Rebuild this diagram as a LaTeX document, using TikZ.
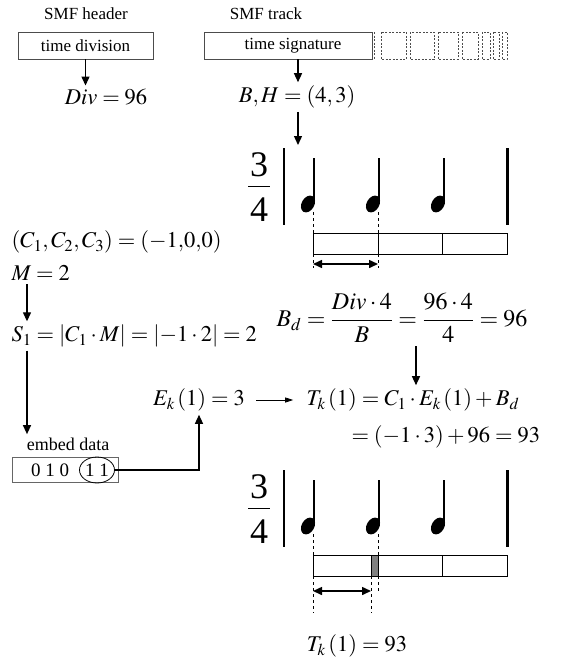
\documentclass[tikz,border=0pt]{standalone}
\usepackage{amsmath}
\usepackage{mathptmx}
\usepackage{fontspec}
\setmainfont{Liberation Serif}
\usetikzlibrary{arrows.meta, shapes.geometric}

\begin{document}
\begin{tikzpicture}[>={Triangle[length=9pt,width=8pt]}, x=1pt, y=-1pt,
    label text/.style={font=\fontsize{17}{20}\selectfont},
    math text/.style={font=\fontsize{22.5}{26}\selectfont},
    meter/.style={font=\fontsize{36}{40}\selectfont, inner sep=0pt},
    chunk/.style={draw=black!70, line width=0.8pt, minimum height=27pt}]
    \useasboundingbox (0,0) rectangle (565,665);

    % Draw the SMF header and track chunks
    \node[label text] (hdr) at (86,14) {SMF header};
    \node[chunk, label text, minimum width=135pt] (tdiv) at (85.5,45.5) {time division};
    \node[label text] (trk) at (266,14) {SMF track};
    \node[chunk, label text, minimum width=168pt] (tsig) at (288,45.5) {\hspace{10pt}time signature};

    % Draw the remaining track events as dashed boxes
    \draw[dashed, black!70, dash pattern=on 2pt off 1.5pt] (374,32) -- (374,59);
    \draw[dashed, black!70, dash pattern=on 2pt off 1.5pt] (381,32) rectangle (406,59);
    \draw[dashed, black!70, dash pattern=on 2pt off 1.5pt] (410,32) rectangle (434,59);
    \draw[dashed, black!70, dash pattern=on 2pt off 1.5pt] (438,32) rectangle (458,59);
    \draw[dashed, black!70, dash pattern=on 2pt off 1.5pt] (462,32) rectangle (478,59);
    \draw[dashed, black!70, dash pattern=on 2pt off 1.5pt] (482,32) rectangle (490,59);
    \draw[dashed, black!70, dash pattern=on 2pt off 1.5pt] (493,32) rectangle (499,59);
    \draw[dashed, black!70, dash pattern=on 2pt off 1.5pt] (502,32) rectangle (507,59);

    % Values read from the chunks
    \node[math text] (div) at (106,97) {$Div = 96$};
    \node[math text] (bh) at (297,97) {$B,H = (4,3)$};
    \coordinate (bhx) at (298,0);
    \coordinate (staffin) at (298,145);
    \draw[line width=1.3pt, ->] (tdiv.south) -- (tdiv.south |- div.north);
    \draw[line width=1.3pt, ->] (tsig.south -| bhx) -- (bh.north -| bhx);
    \draw[line width=1.3pt, ->] (bh.south -| bhx) -- (staffin);

    % Draw the first bar in 3/4
    \node[meter] (numa) at (259,165) {3};
    \node[meter] (dena) at (259,210) {4};
    \draw[line width=0.8pt] (248,186) -- (270,186);
    \draw[line width=2.5pt] (284,148) -- (284,225);
    \draw[line width=3pt] (507,148) -- (507,225);
    \fill[rotate around={60:(308,204)}] (308,204) ellipse (9 and 6.3);
    \fill[rotate around={60:(373,204)}] (373,204) ellipse (9 and 6.3);
    \fill[rotate around={60:(438,204)}] (438,204) ellipse (9 and 6.3);
    \draw[line width=1.3pt] (314,158) -- (314,202);
    \draw[line width=1.3pt] (379,158) -- (379,202);
    \draw[line width=1.3pt] (444,158) -- (444,202);
    \draw[line width=0.8pt] (313,233) rectangle (507,254);
    \draw[line width=0.8pt] (378,233) -- (378,254);
    \draw[line width=0.8pt] (442,233) -- (442,254);
    \draw[dashed, line width=1pt] (313,212) -- (313,268);
    \draw[dashed, line width=1pt] (378,212) -- (378,268);
    \draw[line width=1.5pt, <->] (313,264) -- (378,264);

    % Coefficients and the embedded bits
    \node[math text, anchor=west] (coef) at (8,242) {$(C_1,C_2,C_3) = (-1{,}0{,}0)$};
    \node[math text, anchor=west] (mval) at (8,273) {$M = 2$};
    \node[math text, anchor=west] (sone) at (8,336) {$S_1 = \left|C_1\cdot M\right| = \left|-1\cdot 2\right| = 2$};
    \node[font=\fontsize{18}{21}\selectfont] (emb) at (68,444) {embed data};
    \node[draw=black!60, line width=0.8pt, minimum width=106pt, minimum height=25pt] (bits) at (65,470) {};
    \node[font=\fontsize{19}{22}\selectfont] (zeros) at (50,470) {0 1 0};
    \node[draw, ellipse, line width=0.8pt, inner sep=0pt, minimum width=35pt, minimum height=26pt, font=\fontsize{19}{22}\selectfont] (ones) at (97,470) {1 1};
    \coordinate (lcol) at (27,0);
    \draw[line width=1.3pt, ->] (mval.south -| lcol) -- (sone.north -| lcol);
    \draw[line width=1.3pt, ->] (sone.south -| lcol) -- (emb.north -| lcol);

    % Beat duration and the new onset time
    \node[math text, font=\fontsize{24}{28}\selectfont] (bd) at (402,318) {$B_d = \dfrac{Div\cdot 4}{B} = \dfrac{96\cdot 4}{4} = 96$};
    \node[math text] (ek) at (199,400) {$E_k\,(1) = 3$};
    \node[math text] (tk) at (413,400) {$T_k\,(1) = C_1\cdot E_k\,(1) + B_d$};
    \node[math text, anchor=west] (tkv) at (348,437) {$= (-1\cdot 3) + 96 = 93$};
    \coordinate (bdx) at (416,0);
    \draw[line width=1.3pt, ->] (bd.south -| bdx) -- (tk.north -| bdx);
    \draw[line width=0.8pt, -{Triangle[length=8pt,width=5pt]}, shorten <=8pt, shorten >=10pt] (ek) -- (tk);
    \draw[line width=1.3pt, ->] (ones.east) -| (ek.south);

    % Draw the second bar with the shifted note
    \node[meter] (numb) at (259,487) {3};
    \node[meter] (denb) at (259,532) {4};
    \draw[line width=0.8pt] (248,508) -- (270,508);
    \draw[line width=2.5pt] (284,470) -- (284,547);
    \draw[line width=3pt] (507,470) -- (507,547);
    \fill[rotate around={60:(308,526)}] (308,526) ellipse (9 and 6.3);
    \fill[rotate around={60:(373,526)}] (373,526) ellipse (9 and 6.3);
    \fill[rotate around={60:(438,526)}] (438,526) ellipse (9 and 6.3);
    \draw[line width=1.3pt] (314,480) -- (314,524);
    \draw[line width=1.3pt] (379,480) -- (379,524);
    \draw[line width=1.3pt] (444,480) -- (444,524);
    \draw[line width=0.8pt] (313,555) rectangle (507,576);
    \draw[line width=0.8pt, fill=black!50] (371,555) rectangle (378,576);
    \draw[line width=0.8pt] (442,555) -- (442,576);
    \draw[dashed, line width=1pt] (313,534) -- (313,613);
    \draw[dashed, line width=1pt] (378,534) -- (378,592);
    \draw[dashed, line width=1pt] (371,576) -- (371,613);
    \draw[line width=1.5pt, <->] (313,591) -- (371,591);
    \node[math text] (tkr) at (357,646) {$T_k\,(1) = 93$};

\end{tikzpicture}
\end{document}
